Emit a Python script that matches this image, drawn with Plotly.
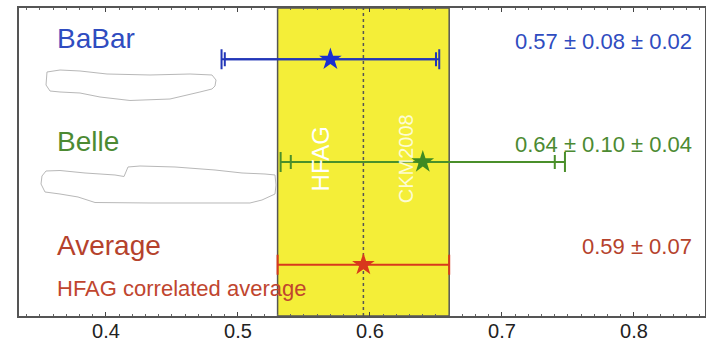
import plotly.graph_objects as go

# ---------------- data ----------------
experiments = ["BaBar", "Belle"]
exp_values = [0.57, 0.64]
exp_stat = [0.08, 0.10]
exp_syst = [0.02, 0.04]
exp_text = ["0.57 \u00b1 0.08 \u00b1 0.02", "0.64 \u00b1 0.10 \u00b1 0.04"]
exp_rows = [2.5, 1.5]

avg_label = "Average"
avg_sub = "HFAG correlated average"
avg_value = 0.595
avg_err = 0.065
avg_text = "0.59 \u00b1 0.07"
avg_row = 0.5

tick_vals = [0.4, 0.5, 0.6, 0.7, 0.8]
tick_text = ["0.4", "0.5", "0.6", "0.7", "0.8"]

band_labels = ["HFAG", "CKM2008"]

# ---------------- style ----------------
FONT = "Liberation Sans, Arial, Helvetica, sans-serif"
W, H = 706, 344
ML, MR, MT, MB = 19, 1, 8, 28
XR = [0.3341, 0.8538]
YR = [0, 3]

exp_bar_colors = ["#2236b8", "#4a8f2a"]
exp_star_colors = ["#1a2fd0", "#3f8a22"]
exp_text_colors = ["#2f4cc0", "#4c8a32"]
avg_bar_color = "#d8391c"
avg_text_color = "#b5422c"
yellow = "#f4ee38"

fig = go.Figure()

# yellow average band
fig.add_vrect(x0=avg_value - avg_err, x1=avg_value + avg_err,
              fillcolor=yellow, opacity=1, layer="below",
              line=dict(color="#555555", width=1.5))
fig.add_shape(type="line", x0=avg_value, x1=avg_value, y0=0, y1=1,
              xref="x", yref="paper", layer="below",
              line=dict(color="#555555", width=1.5, dash="dot"))

for i, name in enumerate(experiments):
    tot = (exp_stat[i] ** 2 + exp_syst[i] ** 2) ** 0.5
    # total error (outer caps)
    fig.add_trace(go.Scatter(
        x=[exp_values[i]], y=[exp_rows[i]], mode="markers",
        marker=dict(size=1, color="rgba(0,0,0,0)"),
        error_x=dict(type="data", array=[tot], symmetric=True,
                     width=10, thickness=2, color=exp_bar_colors[i]),
        showlegend=False, hoverinfo="skip"))
    # statistical error (inner caps) + star
    fig.add_trace(go.Scatter(
        x=[exp_values[i]], y=[exp_rows[i]], mode="markers",
        marker=dict(symbol="star", size=17, color=exp_star_colors[i],
                    line=dict(width=0)),
        error_x=dict(type="data", array=[exp_stat[i]], symmetric=True,
                     width=7, thickness=2, color=exp_bar_colors[i]),
        showlegend=False))

fig.add_trace(go.Scatter(
    x=[avg_value], y=[avg_row], mode="markers",
    marker=dict(symbol="star", size=17, color=avg_bar_color, line=dict(width=0)),
    error_x=dict(type="data", array=[avg_err], symmetric=True,
                 width=10, thickness=2, color=avg_bar_color),
    showlegend=False))

# white "redaction" blobs (decoration, pixel outlines)
def px2paper(pts):
    return [((x - ML) / (W - ML - MR), (H - MB - y) / (H - MT - MB)) for x, y in pts]

blob1 = [(47, 72), (60, 70), (80, 71), (107, 74), (150, 75), (190, 74), (212, 75),
         (216, 80), (215, 86), (212, 89), (200, 92), (170, 99), (130, 100.5),
         (100, 97), (80, 93), (60, 92), (50, 91), (46, 85)]
blob2 = [(42, 176), (46, 171), (60, 170.5), (85, 173), (115, 175), (124, 176.5),
         (128, 167), (140, 166), (175, 167), (215, 170), (242, 173), (265, 174),
         (275, 175), (276, 185), (275, 194), (262, 200), (250, 203), (150, 203),
         (95, 202.5), (78, 197), (60, 194), (45, 192), (41, 184)]
for blob in (blob1, blob2):
    p = px2paper(blob)
    path = "M " + " L ".join(f"{x:.4f},{y:.4f}" for x, y in p) + " Z"
    fig.add_shape(type="path", path=path, xref="paper", yref="paper",
                  fillcolor="white", line=dict(color="#b8b8b8", width=1),
                  layer="above")

# labels
for i, name in enumerate(experiments):
    fig.add_annotation(x=0.3613, y=exp_rows[i] + 0.2, text=name, showarrow=False,
                       xanchor="left", yanchor="middle",
                       font=dict(family=FONT, size=28, color=exp_text_colors[i]))
    fig.add_annotation(x=0.8455, y=exp_rows[i] + 0.17, text=exp_text[i], showarrow=False,
                       xanchor="right", yanchor="middle",
                       font=dict(family=FONT, size=22, color=exp_text_colors[i]))

fig.add_annotation(x=0.3613, y=avg_row + 0.19, text=avg_label, showarrow=False,
                   xanchor="left", yanchor="middle",
                   font=dict(family=FONT, size=28, color=avg_text_color))
fig.add_annotation(x=0.3613, y=avg_row - 0.23, text=avg_sub, showarrow=False,
                   xanchor="left", yanchor="middle",
                   font=dict(family=FONT, size=22, color="#c0452e"))
fig.add_annotation(x=0.8455, y=avg_row + 0.175, text=avg_text, showarrow=False,
                   xanchor="right", yanchor="middle",
                   font=dict(family=FONT, size=22, color=avg_text_color))

# band labels (vertical)
fig.add_annotation(x=0.5625, y=1.53, text=band_labels[0], showarrow=False,
                   textangle=-90, xanchor="center", yanchor="middle",
                   font=dict(family=FONT, size=24, color="white"))
fig.add_annotation(x=0.6275, y=1.53, text=band_labels[1], showarrow=False,
                   textangle=-90, xanchor="center", yanchor="middle",
                   font=dict(family=FONT, size=20, color="rgba(255,255,240,0.85)"))

fig.update_layout(
    width=W, height=H,
    margin=dict(l=ML, r=MR, t=MT, b=MB, pad=0, autoexpand=False),
    paper_bgcolor="white", plot_bgcolor="white",
    showlegend=False,
    xaxis=dict(range=XR, tickvals=tick_vals, ticktext=tick_text,
               ticks="inside", ticklen=4, tickcolor="#444", tickwidth=1,
               minor=dict(ticks="inside", dtick=0.01, ticklen=2, tickcolor="#666"),
               showline=True, linecolor="#555", linewidth=1.5, mirror="allticks",
               showgrid=False, zeroline=False, ticklabelstandoff=-4, automargin=False,
               tickfont=dict(family=FONT, size=20, color="#222")),
    yaxis=dict(range=YR, showticklabels=False, ticks="", showgrid=False,
               zeroline=False, showline=True, linecolor="#555", linewidth=1.5,
               mirror=True, automargin=False),
)

fig.write_html("out.html")
